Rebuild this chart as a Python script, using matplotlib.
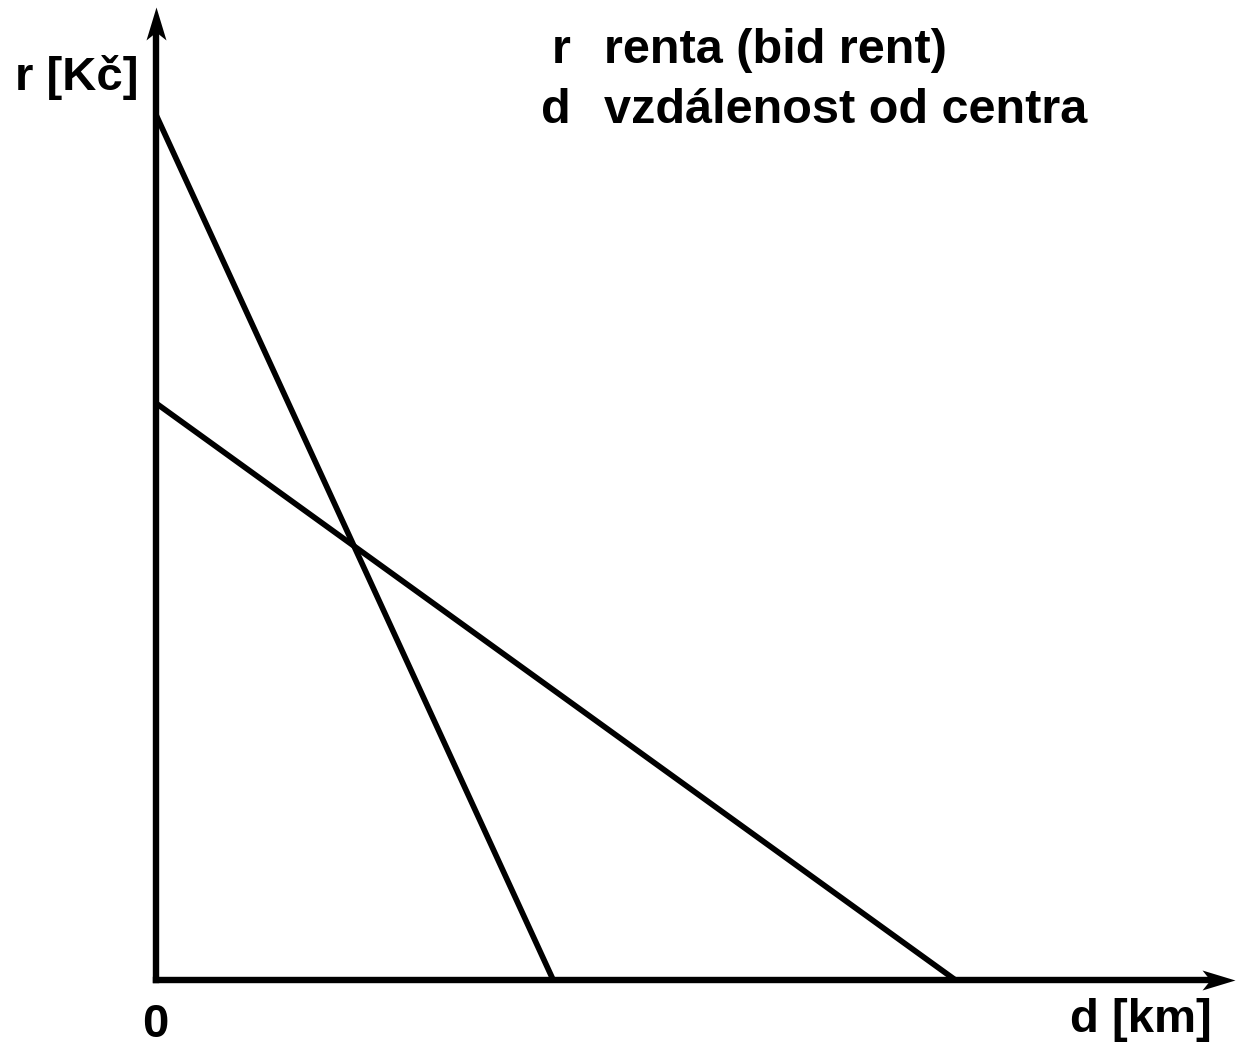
import matplotlib
matplotlib.use("Agg")
import matplotlib.pyplot as plt
from matplotlib.path import Path

# Data (abstract bid-rent curves)
curve_steep_d = [0.0, 4.0]
curve_steep_r = [12.0, 0.0]
curve_flat_d = [0.0, 8.05]
curve_flat_r = [8.0, 0.0]
axis_d_max = 10.87
axis_r_max = 13.5

W, H = 1237, 1048
fig = plt.figure(figsize=(W / 100, H / 100), dpi=100)
ax = fig.add_axes([0, 0, 1, 1])
ax.set_xlim(-1.571, 10.886)
ax.set_ylim(-0.943, 13.592)
ax.axis("off")

plt.rcParams['font.family'] = ['Liberation Sans', 'DejaVu Sans']
FS_LAB = 34
FS_LEG = 35

# arrowhead markers (barbed)
up_head = Path([(0, 0), (-10, -33), (0, -25), (10, -33), (0, 0)],
               [Path.MOVETO, Path.LINETO, Path.LINETO, Path.LINETO, Path.CLOSEPOLY])
right_head = Path([(0, 0), (-33, 10), (-25, 0), (-33, -10), (0, 0)],
                  [Path.MOVETO, Path.LINETO, Path.LINETO, Path.LINETO, Path.CLOSEPOLY])

axis_lw = 4.6
ax.plot([0, 0], [0, axis_r_max - 0.3], color='black', lw=axis_lw, solid_capstyle='projecting')
ax.plot([0, axis_d_max - 0.2], [0, 0], color='black', lw=axis_lw, solid_capstyle='projecting')
ax.plot([0], [axis_r_max], marker=up_head, markersize=47.5, color='black', mew=0)
ax.plot([axis_d_max], [0], marker=right_head, markersize=47.5, color='black', mew=0)

line_lw = 4.1
ax.plot(curve_steep_d, curve_steep_r, color='black', lw=line_lw, solid_capstyle='butt')
ax.plot(curve_flat_d, curve_flat_r, color='black', lw=line_lw, solid_capstyle='butt')

def fx(px):
    return px / W

def fy(py):
    return 1 - py / H

kw = dict(fontweight='bold', color='black', transform=fig.transFigure)
fig.text(fx(15), fy(90), "r [Kč]", fontsize=FS_LAB, ha='left', va='baseline', **kw)
fig.text(fx(155), fy(1037), "0", fontsize=FS_LAB, ha='center', va='baseline', **kw)
fig.text(fx(1212), fy(1032), "d [km]", fontsize=FS_LAB, ha='right', va='baseline', **kw)

fig.text(fx(571), fy(63), "r", fontsize=FS_LEG, ha='right', va='baseline', **kw)
fig.text(fx(604), fy(63), "renta (bid rent)", fontsize=FS_LEG, ha='left', va='baseline', **kw)
fig.text(fx(571), fy(123), "d", fontsize=FS_LEG, ha='right', va='baseline', **kw)
fig.text(fx(604), fy(123), "vzdálenost od centra", fontsize=FS_LEG, ha='left', va='baseline', **kw)

fig.savefig("out.png", dpi=100, facecolor='white')
